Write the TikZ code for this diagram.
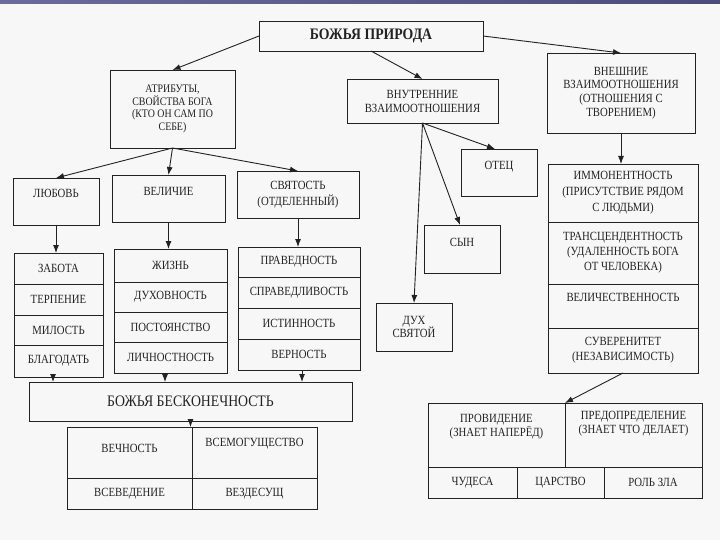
\documentclass[tikz,border=0pt]{standalone}
\usepackage{fontspec}
\setmainfont{Liberation Serif}[FakeStretch=0.86]
\usetikzlibrary{arrows.meta}
\definecolor{ink}{HTML}{222222}
\definecolor{bgc}{HTML}{F7F7F7}
\definecolor{barL}{HTML}{6A6A9C}
\definecolor{barR}{HTML}{4C4C7C}
\newcommand\mkbox[7][]{%
  \node[box, txt, minimum width={#5-#3}, minimum height={#6-#4}, #1] (#2)
    at ({(#3+#5)/2},{(#4+#6)/2}) {#7};}
\begin{document}
\begin{tikzpicture}[x=1pt,y=-1pt,
  box/.style={draw=ink, line width=0.9pt, inner sep=0pt, outer sep=0pt, rectangle},
  txt/.style={text=ink, align=center, inner sep=0pt, font=\fontsize{12.5}{14}\selectfont},
  arr/.style={draw=ink, line width=0.9pt, -{Latex[length=8pt,width=6pt]}},
]
\fill[bgc] (0,0) rectangle (720,540);
\useasboundingbox (0,0) rectangle (720,540);
\shade[left color=barL, right color=barR] (0,0) rectangle (720,4);

% top level
\mkbox[font=\fontsize{16}{17}\selectfont\bfseries]{top}{259}{21}{483}{51}{БОЖЬЯ ПРИРОДА}
\mkbox[font=\fontsize{11.5}{12.8}\selectfont]{attr}{110}{70}{235}{148}{АТРИБУТЫ,\\СВОЙСТВА БОГА\\(КТО ОН САМ ПО\\СЕБЕ)}
\mkbox[font=\fontsize{12.5}{14}\selectfont]{inner}{347}{79}{498}{123}{ВНУТРЕННИЕ\\ВЗАИМООТНОШЕНИЯ}
\mkbox[font=\fontsize{12.5}{13.7}\selectfont]{outer}{547}{53}{695}{133}{ВНЕШНИЕ\\ВЗАИМООТНОШЕНИЯ\\(ОТНОШЕНИЯ С\\ТВОРЕНИЕМ)}

% attributes
\mkbox{lub}{13}{178}{99}{225}{}
\node[txt] (lub-t) at (56,193) {ЛЮБОВЬ};
\mkbox{vel}{112}{175}{225}{222}{}
\node[txt] (vel-t) at (168.5,191) {ВЕЛИЧИЕ};
\mkbox[font=\fontsize{12.5}{16}\selectfont]{svy}{237}{171}{359}{218}{СВЯТОСТЬ\\(ОТДЕЛЕННЫЙ)}

\mkbox{l1}{14}{253}{103}{284}{ЗАБОТА}
\mkbox{l2}{14}{284}{103}{315}{ТЕРПЕНИЕ}
\mkbox{l3}{14}{315}{103}{345}{МИЛОСТЬ}
\mkbox{l4}{14}{345}{103}{377}{БЛАГОДАТЬ}

\mkbox{m1}{114}{249}{227}{282}{ЖИЗНЬ}
\mkbox{m2}{114}{282}{227}{312}{ДУХОВНОСТЬ}
\mkbox{m3}{114}{312}{227}{342}{ПОСТОЯНСТВО}
\mkbox{m4}{114}{342}{227}{373}{ЛИЧНОСТНОСТЬ}

\mkbox{r1}{238}{247}{360}{277}{ПРАВЕДНОСТЬ}
\mkbox{r2}{238}{277}{360}{308}{СПРАВЕДЛИВОСТЬ}
\mkbox{r3}{238}{308}{360}{339}{ИСТИННОСТЬ}
\mkbox{r4}{238}{339}{360}{370}{ВЕРНОСТЬ}

\mkbox[font=\fontsize{16}{17}\selectfont]{inf}{29}{382}{352}{421}{БОЖЬЯ БЕСКОНЕЧНОСТЬ}
\mkbox{g1}{67}{427}{192}{478}{}
\node[txt] (g1-t) at (129.5,448) {ВЕЧНОСТЬ};
\mkbox{g2}{192}{427}{317}{478}{}
\node[txt] (g2-t) at (254.5,444) {ВСЕМОГУЩЕСТВО};
\mkbox{g3}{67}{478}{192}{509}{ВСЕВЕДЕНИЕ}
\mkbox{g4}{192}{478}{317}{509}{ВЕЗДЕСУЩ}

% internal relations
\mkbox{otec}{461}{149}{537}{196}{}
\node[txt] (otec-t) at (499,167) {ОТЕЦ};
\mkbox{syn}{424}{225}{500}{273}{}
\node[txt] (syn-t) at (462,242) {СЫН};
\mkbox[font=\fontsize{12.5}{13.5}\selectfont]{dukh}{376}{303}{452}{351}{ДУХ\\СВЯТОЙ}

% external relations
\mkbox[font=\fontsize{12.5}{16}\selectfont]{rc1}{548}{164}{698}{222}{ИММОНЕНТНОСТЬ\\(ПРИСУТСТВИЕ РЯДОМ\\С ЛЮДЬМИ)}
\mkbox[font=\fontsize{12.5}{15}\selectfont]{rc2}{548}{222}{698}{284}{ТРАНСЦЕНДЕНТНОСТЬ\\(УДАЛЕННОСТЬ БОГА\\ОТ ЧЕЛОВЕКА)}
\mkbox{rc3}{548}{284}{698}{328}{}
\node[txt] (rc3-t) at (623,297) {ВЕЛИЧЕСТВЕННОСТЬ};
\mkbox[font=\fontsize{12.5}{15}\selectfont]{rc4}{548}{328}{698}{373}{СУВЕРЕНИТЕТ\\(НЕЗАВИСИМОСТЬ)}

\mkbox{p1}{428}{403}{565}{467}{}
\node[txt, font=\fontsize{12.5}{13.5}\selectfont] (p1-t) at (496.5,426.5) {ПРОВИДЕНИЕ\\(ЗНАЕТ НАПЕРЁД)};
\mkbox{p2}{565}{403}{702}{467}{}
\node[txt, font=\fontsize{12.5}{13.5}\selectfont] (p2-t) at (633.5,423.5) {ПРЕДОПРЕДЕЛЕНИЕ\\(ЗНАЕТ ЧТО ДЕЛАЕТ)};
\mkbox{q1}{428}{467}{517}{498}{ЧУДЕСА}
\mkbox{q2}{517}{467}{604}{498}{ЦАРСТВО}
\mkbox{q3}{604}{467}{702}{498}{РОЛЬ ЗЛА}

% connectors
\draw[arr] (top.west) -- (attr.north);
\draw[arr] (top.south) -- (inner.north);
\draw[arr] (top.east) -- (outer.north);
\draw[arr] (attr.south) -- (lub.north);
\draw[arr] (attr.south) -- (vel.north);
\draw[arr] (attr.south) -- (svy.north);
\draw[arr] (lub.south) -- (lub.south |- l1.north);
\draw[arr] (vel.south) -- (vel.south |- m1.north);
\draw[arr] (svy.south) -- (svy.south |- r1.north);
\draw[arr] ([xshift=-5.5pt]l4.south) -- ([xshift=-5.5pt]l4.south |- inf.north);
\draw[arr] ([xshift=-5.5pt]m4.south) -- ([xshift=-5.5pt]m4.south |- inf.north);
\draw[arr] ([xshift=3pt]r4.south) -- ([xshift=3pt]r4.south |- inf.north);
\draw[arr] (inf.south) -- (inf.south |- g1.north);
\draw[arr] (inner.south) -- ([xshift=-4pt]otec.north);
\draw[arr] (inner.south) -- ([xshift=-2pt]syn.north);
\draw[arr] (inner.south) -- (dukh.north);
\draw[arr] (outer.south) -- (outer.south |- rc1.north);
\draw[arr] (rc4.south) -- (p1.north east);
\end{tikzpicture}
\end{document}
